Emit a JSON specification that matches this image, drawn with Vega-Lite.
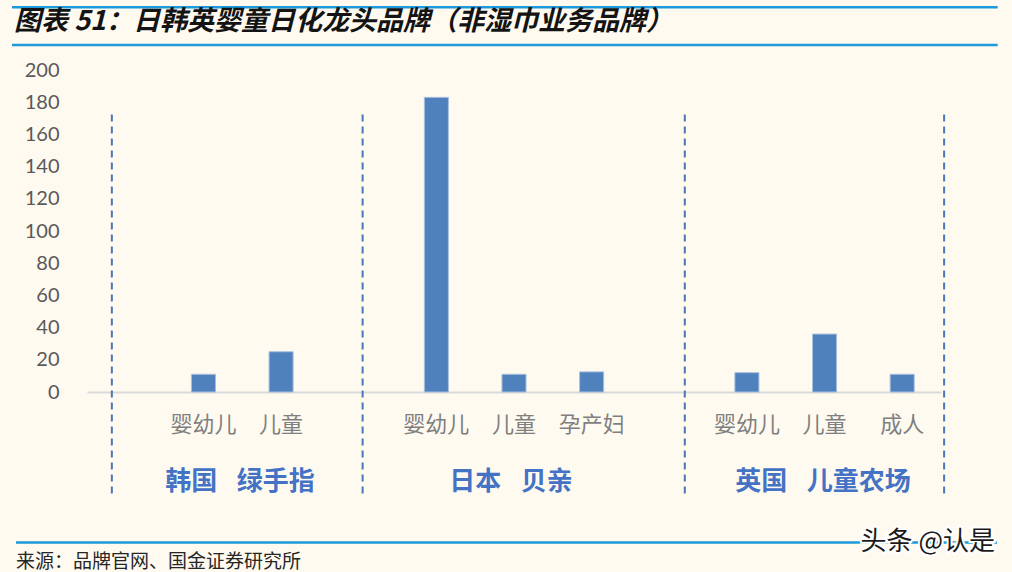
{
  "$schema": "https://vega.github.io/schema/vega-lite/v6.json",
  "autosize": {"type": "none"},
  "width": 854,
  "height": 322,
  "padding": {"left": 87, "top": 70, "right": 71, "bottom": 180},
  "background": "#FEFAF0",
  "config": {"view": {"stroke": null}, "font": "Noto Sans CJK SC"},
  "datasets": {
    "bars": [
      {"id": "韩国|婴幼儿", "v": 11},
      {"id": "韩国|儿童", "v": 25},
      {"id": "日本|婴幼儿", "v": 183},
      {"id": "日本|儿童", "v": 11},
      {"id": "日本|孕产妇", "v": 12.5},
      {"id": "英国|婴幼儿", "v": 12},
      {"id": "英国|儿童", "v": 36},
      {"id": "英国|成人", "v": 11}
    ],
    "seps": [{"p": 0.32}, {"p": 3.55}, {"p": 7.7}, {"p": 11.04}],
    "groups": [
      {"g": "韩国\u2002\u2005绿手指", "p": 1.97},
      {"g": "日本\u2002\u2005贝亲", "p": 5.46},
      {"g": "英国\u2002\u2005儿童农场", "p": 9.48}
    ],
    "frame": [
      {"line": "top", "x1": -0.966, "x2": 11.73, "y": 239.0},
      {"line": "title", "x1": -0.966, "x2": 11.73, "y": 215.6},
      {"line": "source", "x1": -0.915, "x2": 11.72, "y": -93.5}
    ]
  },
  "resolve": {"scale": {"x": "independent", "y": "independent"}},
  "layer": [
    {
      "data": {"name": "bars"},
      "mark": {"type": "bar", "color": "#4F81BD", "stroke": "#A9BFDF", "strokeWidth": 1},
      "encoding": {
        "x": {
          "field": "id", "type": "nominal", "sort": null,
          "scale": {
            "domain": ["_a", "韩国|婴幼儿", "韩国|儿童", "_b", "日本|婴幼儿", "日本|儿童", "日本|孕产妇", "_c", "英国|婴幼儿", "英国|儿童", "英国|成人"],
            "paddingInner": 0.69, "paddingOuter": 0.345
          },
          "axis": {
            "title": null,
            "labelExpr": "indexof(datum.value, '|') >= 0 ? split(datum.value, '|')[1] : ''",
            "labelAngle": 0, "ticks": false, "tickSize": 0,
            "domainColor": "#D9D9D9", "domainWidth": 2,
            "labelFont": "Noto Sans CJK SC", "labelFontSize": 22, "labelColor": "#7F7F7F",
            "labelPadding": 22, "labelOverlap": false
          }
        },
        "y": {
          "field": "v", "type": "quantitative",
          "scale": {"domain": [0, 200]},
          "axis": {
            "title": null, "values": [0, 20, 40, 60, 80, 100, 120, 140, 160, 180, 200],
            "grid": false, "domain": false, "ticks": false, "tickSize": 0,
            "labelFont": "Lato", "labelFontSize": 20, "labelColor": "#595959", "labelPadding": 28,
            "labelOverlap": false
          }
        }
      }
    },
    {
      "layer": [
        {
          "data": {"name": "seps"},
          "mark": {"type": "rule", "color": "#4A76BA", "strokeWidth": 2, "strokeDash": [7, 5]},
          "encoding": {
            "x": {"field": "p", "type": "quantitative", "scale": {"domain": [0, 11], "nice": false, "zero": false}, "axis": null},
            "y": {"datum": 172.4, "scale": {"domain": [0, 200], "nice": false}, "axis": null},
            "y2": {"datum": -65}
          }
        },
        {
          "data": {"name": "groups"},
          "mark": {"type": "text", "fontSize": 26, "fontWeight": "bold", "color": "#4472C4", "baseline": "middle", "align": "center"},
          "encoding": {
            "x": {"field": "p", "type": "quantitative", "scale": {"domain": [0, 11], "nice": false, "zero": false}, "axis": null},
            "y": {"datum": -56, "scale": {"domain": [0, 200], "nice": false}, "axis": null},
            "text": {"field": "g"}
          }
        },
        {
          "data": {"name": "frame"},
          "mark": {"type": "rule", "color": "#1C9ADB", "strokeWidth": 2.5},
          "encoding": {
            "x": {"field": "x1", "type": "quantitative", "scale": {"domain": [0, 11], "nice": false, "zero": false}, "axis": null},
            "x2": {"field": "x2"},
            "y": {"field": "y", "type": "quantitative", "scale": {"domain": [0, 200], "nice": false}, "axis": null}
          }
        },
        {
          "data": {"values": [{"t": "图表 51：日韩英婴童日化龙头品牌（非湿巾业务品牌）"}]},
          "mark": {"type": "text", "fontSize": 27, "fontWeight": "bold", "fontStyle": "italic", "color": "#141414", "align": "left", "baseline": "middle"},
          "encoding": {
            "x": {"datum": -0.94, "scale": {"domain": [0, 11], "nice": false, "zero": false}, "axis": null},
            "y": {"datum": 229.6, "scale": {"domain": [0, 200], "nice": false}, "axis": null},
            "text": {"field": "t"}
          }
        },
        {
          "data": {"values": [{"t": "来源：品牌官网、国金证券研究所"}]},
          "mark": {"type": "text", "fontSize": 19, "color": "#262626", "align": "left", "baseline": "middle"},
          "encoding": {
            "x": {"datum": -0.915, "scale": {"domain": [0, 11], "nice": false, "zero": false}, "axis": null},
            "y": {"datum": -105.3, "scale": {"domain": [0, 200], "nice": false}, "axis": null},
            "text": {"field": "t"}
          }
        },
        {
          "data": {"values": [{"t": "头条 @认是"}]},
          "mark": {"type": "text", "fontSize": 26, "color": "#FFFFFF", "stroke": "#FFFFFF", "strokeWidth": 4, "align": "center", "baseline": "middle"},
          "encoding": {
            "x": {"datum": 10.83, "scale": {"domain": [0, 11], "nice": false, "zero": false}, "axis": null},
            "y": {"datum": -93.3, "scale": {"domain": [0, 200], "nice": false}, "axis": null},
            "text": {"field": "t"}
          }
        },
        {
          "data": {"values": [{"t": "头条 @认是"}]},
          "mark": {"type": "text", "fontSize": 26, "color": "#1A1A1A", "align": "center", "baseline": "middle"},
          "encoding": {
            "x": {"datum": 10.83, "scale": {"domain": [0, 11], "nice": false, "zero": false}, "axis": null},
            "y": {"datum": -93.3, "scale": {"domain": [0, 200], "nice": false}, "axis": null},
            "text": {"field": "t"}
          }
        }
      ]
    }
  ]
}
